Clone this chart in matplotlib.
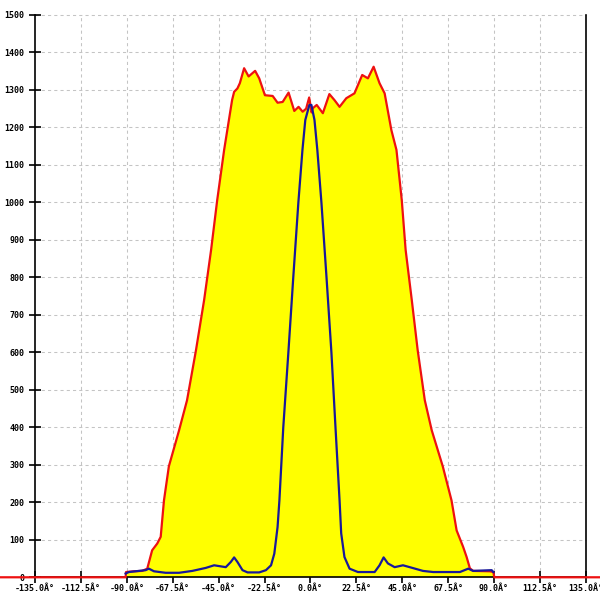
import numpy as np
import matplotlib
matplotlib.use("Agg")
import matplotlib.pyplot as plt

# angle (deg) / value pairs
red_x = [-160, -90.6, -90.4, -86.6, -82.5, -80.0, -77.6, -75.1, -73.4, -71.8, -69.4,
         -64.4, -60.5, -56.1, -52.1, -48.7, -45.7, -42.3, -38.4, -37.4, -35.8, -34.6,
         -32.5, -30.3, -27.1, -25.1, -22.3, -18.5, -16.1, -13.6, -10.7, -7.9, -5.8,
         -3.8, -2.1, -0.6, 0.6, 1.1, 3.1, 6.1, 9.3, 11.8, 14.3, 17.6, 21.6, 25.4, 28.2,
         31.0, 33.9, 36.4, 39.7, 42.2, 44.8, 46.7, 49.7, 52.6, 56.1, 59.5, 64.9, 69.2,
         71.7, 74.9, 76.6, 78.2, 79.8, 88.0, 89.7, 90.2, 160]
red_y = [0, 0, 14, 16, 17, 23, 72, 90, 108, 205, 296,
         392, 472, 606, 740, 873, 1006, 1140, 1273, 1295, 1304, 1318,
         1358, 1336, 1351, 1331, 1286, 1284, 1266, 1268, 1293, 1244, 1255,
         1242, 1250, 1280, 1240, 1251, 1260, 1238, 1289, 1273, 1255, 1278, 1291, 1340, 1331,
         1362, 1318, 1291, 1193, 1140, 1006, 873, 740, 606, 472, 392, 296, 205,
         125, 81, 54, 24, 17, 16, 14, 0, 0]

blue_x = [-90.6, -89.0, -80.8, -79.2, -76.7, -71.0, -64.4, -57.9, -51.3, -47.2,
          -41.5, -39.0, -37.4, -35.8, -33.3, -30.8, -25.1, -21.8, -19.3, -17.7,
          -16.1, -15.2, -13.3, -10.8, -8.4, -5.9, -3.9, -2.5, -0.5, 0.5,
          2.0, 3.4, 5.4, 7.9, 10.3, 12.3, 14.3, 15.1, 16.7, 19.2,
          23.3, 31.5, 33.9, 35.9, 38.0, 41.3, 45.4, 48.7, 55.2, 60.2,
          73.3, 77.4, 79.8, 88.9, 89.7]
blue_y = [10, 14, 19, 23, 16, 12, 12, 17, 25, 32,
          27, 41, 53, 41, 19, 13, 13, 19, 32, 63,
          134, 205, 400, 600, 800, 1000, 1140, 1220, 1260, 1260,
          1220, 1140, 1000, 800, 600, 400, 205, 117, 54, 23,
          14, 14, 32, 53, 37, 27, 32, 27, 17, 14,
          14, 23, 17, 19, 14]

x_ticks = np.arange(-135, 135.1, 22.5)
x_labels = [f"{t:.1f}Â°" for t in x_ticks]
y_ticks = np.arange(0, 1501, 100)

fig = plt.figure(figsize=(6, 6), dpi=100)
ax = fig.add_axes([0, 0, 1, 1])
ax.set_xlim(-152.2, 142.0)
ax.set_ylim(-60.6, 1540)

# grid
grid_kw = dict(colors="#c4c4c4", linewidth=0.75, linestyles=(0, (3, 3)), zorder=1)
ax.hlines(y_ticks[1:], -135, 135, **grid_kw)
ax.vlines(x_ticks[1:-1], 0, 1500, **grid_kw)

ax.fill_between(red_x, red_y, 0, color="#ffff00", linewidth=0, zorder=2)
ax.plot(red_x, red_y, color="#ee1111", linewidth=1.6, zorder=4)
ax.plot(blue_x, blue_y, color="#18189a", linewidth=1.6, zorder=5)

ax.spines["top"].set_visible(False)
ax.spines["left"].set_position(("data", -135))
ax.spines["left"].set_bounds(0, 1500)
ax.spines["right"].set_position(("data", 135))
ax.spines["right"].set_bounds(0, 1500)
ax.spines["bottom"].set_position(("data", 0))
ax.spines["bottom"].set_bounds(-135, 135)
for s in ["left", "right", "bottom"]:
    ax.spines[s].set_linewidth(1.2)
    ax.spines[s].set_zorder(3)

ax.set_xticks(x_ticks)
ax.set_xticklabels(x_labels)
ax.set_yticks(y_ticks)
ax.set_yticklabels([str(v) for v in y_ticks])
ax.tick_params(axis="x", direction="inout", length=9, width=1.2, pad=0.5,
               labelsize=6)
ax.tick_params(axis="y", direction="inout", length=8, width=1.2, pad=3.5,
               labelsize=6, right=False)
for lab in ax.get_xticklabels() + ax.get_yticklabels():
    lab.set_family("DejaVu Sans Mono")
    lab.set_fontweight("bold")

plt.savefig("out.png", dpi=100)
